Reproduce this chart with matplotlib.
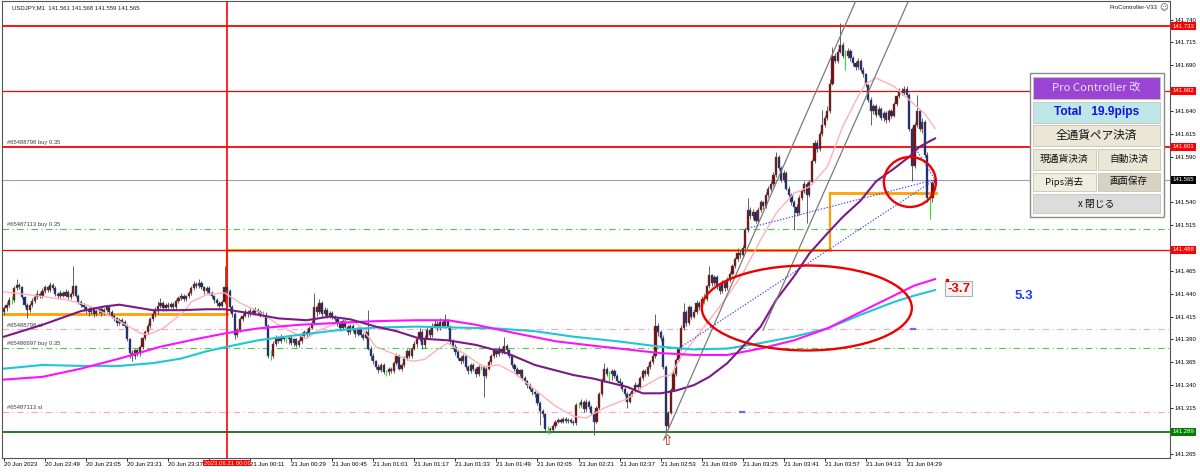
import matplotlib
matplotlib.use('Agg')
import matplotlib.pyplot as plt
import matplotlib.transforms as mtransforms
from matplotlib.patches import Ellipse, Rectangle
import numpy as np

plt.rcParams['font.family'] = ['Liberation Sans', 'Noto Sans CJK JP', 'DejaVu Sans']

# USDJPY M1 candles, prices in thousandths above 141.000 (one row = 16 bars)
opens = [
    420, 424, 428, 433, 433, 446, 450, 447, 436, 428, 422, 428, 432, 436, 440, 437,
    443, 447, 444, 450, 446, 440, 437, 441, 438, 442, 436, 440, 448, 438, 431, 428,
    425, 422, 420, 424, 418, 421, 423, 419, 422, 425, 420, 416, 413, 408, 411, 409,
    405, 390, 375, 372, 378, 375, 382, 391, 398, 405, 412, 418, 421, 427, 430, 424,
    428, 426, 429, 425, 432, 435, 438, 434, 437, 441, 446, 451, 448, 452, 447, 443,
    446, 441, 437, 433, 430, 427, 431, 447, 443, 425, 418, 395, 400, 412, 416, 420,
    418, 421, 419, 422, 420, 417, 417, 405, 372, 372, 385, 392, 388, 393, 390, 390,
    392, 386, 390, 384, 388, 394, 398, 396, 403, 408, 425, 420, 430, 418, 422, 416,
    419, 414, 412, 408, 402, 410, 404, 398, 405, 400, 396, 402, 395, 392, 398, 380,
    372, 366, 360, 356, 362, 354, 354, 358, 355, 364, 372, 358, 362, 370, 377, 372,
    380, 385, 390, 398, 384, 392, 400, 395, 404, 407, 402, 409, 405, 410, 404, 388,
    382, 376, 370, 366, 372, 360, 355, 362, 358, 352, 360, 360, 350, 358, 365, 372,
    378, 374, 380, 376, 383, 378, 372, 362, 358, 352, 356, 348, 344, 340, 336, 332,
    330, 320, 312, 308, 292, 292, 291, 295, 300, 302, 300, 303, 301, 302, 300, 298,
    318, 318, 322, 314, 322, 316, 310, 300, 315, 330, 345, 358, 352, 352, 355, 350,
    345, 342, 336, 330, 322, 330, 334, 340, 338, 348, 355, 352, 360, 365, 372, 405,
    398, 392, 360, 295, 310, 335, 352, 368, 380, 402, 420, 408, 425, 415, 420, 430,
    425, 434, 434, 448, 460, 452, 458, 448, 443, 452, 446, 455, 462, 470, 478, 485,
    482, 490, 510, 532, 525, 530, 520, 532, 540, 536, 548, 555, 560, 570, 590, 578,
    565, 572, 555, 548, 540, 535, 528, 545, 552, 560, 548, 562, 585, 605, 598, 615,
    625, 632, 640, 670, 700, 695, 705, 712, 700, 700, 706, 698, 692, 688, 695, 685,
    680, 668, 652, 640, 645, 636, 642, 632, 638, 630, 640, 635, 648, 656, 662, 660,
    664, 658, 620, 580, 625, 640, 620, 628, 592, 545, 545, 561,
]
highs = [
    427, 431, 436, 437, 449, 456, 452, 449, 438, 430, 430, 435, 439, 444, 442, 446,
    450, 449, 453, 452, 448, 442, 444, 443, 445, 444, 442, 470, 450, 440, 433, 430,
    427, 425, 427, 426, 424, 426, 425, 424, 428, 427, 422, 418, 415, 413, 413, 411,
    407, 392, 378, 380, 380, 384, 393, 400, 408, 414, 422, 426, 432, 435, 432, 430,
    431, 431, 431, 434, 437, 441, 440, 439, 443, 449, 454, 453, 456, 454, 449, 448,
    448, 443, 439, 435, 432, 433, 470, 450, 445, 428, 420, 403, 414, 419, 423, 422,
    424, 423, 425, 424, 422, 421, 420, 407, 378, 388, 395, 394, 396, 394, 393, 394,
    394, 392, 392, 390, 396, 400, 400, 405, 411, 441, 428, 434, 432, 425, 424, 421,
    421, 417, 414, 410, 412, 412, 406, 407, 407, 402, 404, 404, 397, 400, 422, 383,
    375, 368, 363, 364, 364, 357, 360, 360, 366, 375, 374, 364, 372, 380, 379, 382,
    388, 393, 402, 400, 395, 404, 403, 408, 411, 410, 413, 411, 418, 412, 406, 390,
    385, 378, 372, 374, 374, 362, 364, 364, 360, 362, 363, 362, 360, 367, 374, 380,
    381, 383, 382, 393, 385, 380, 374, 364, 360, 358, 358, 350, 346, 342, 338, 334,
    332, 323, 314, 310, 295, 294, 297, 302, 304, 304, 305, 305, 304, 304, 302, 320,
    322, 325, 324, 325, 324, 318, 312, 317, 332, 348, 364, 360, 355, 358, 358, 352,
    348, 345, 338, 332, 332, 336, 343, 342, 350, 358, 358, 362, 368, 376, 418, 408,
    400, 395, 362, 312, 337, 355, 370, 382, 406, 430, 422, 428, 427, 423, 433, 432,
    437, 441, 450, 470, 462, 461, 460, 450, 455, 454, 458, 465, 473, 480, 490, 488,
    493, 512, 545, 535, 533, 532, 535, 543, 542, 551, 558, 563, 573, 595, 592, 580,
    575, 574, 558, 550, 543, 538, 548, 555, 563, 562, 565, 588, 608, 608, 618, 641,
    636, 645, 675, 710, 703, 708, 736, 715, 707, 709, 708, 700, 695, 698, 697, 688,
    682, 670, 655, 648, 648, 645, 644, 640, 640, 642, 642, 650, 658, 665, 665, 667,
    667, 660, 622, 628, 657, 642, 632, 630, 595, 548, 563, 568,
]
lows = [
    417, 421, 426, 429, 431, 444, 445, 434, 425, 413, 420, 426, 430, 434, 435, 435,
    441, 442, 442, 444, 438, 434, 435, 436, 436, 434, 434, 438, 436, 429, 425, 421,
    419, 416, 418, 415, 416, 419, 416, 417, 420, 417, 413, 410, 405, 406, 406, 402,
    388, 370, 366, 369, 372, 372, 380, 389, 396, 402, 410, 415, 418, 424, 421, 421,
    423, 424, 422, 423, 430, 433, 432, 432, 435, 439, 444, 446, 446, 445, 440, 441,
    439, 435, 430, 427, 424, 425, 429, 441, 420, 414, 390, 393, 398, 410, 414, 415,
    416, 417, 417, 418, 415, 414, 403, 370, 367, 370, 383, 386, 386, 388, 386, 385,
    384, 383, 382, 382, 386, 392, 393, 394, 401, 406, 416, 418, 415, 416, 413, 413,
    412, 410, 405, 399, 400, 402, 395, 396, 398, 393, 394, 393, 389, 390, 378, 368,
    363, 358, 353, 354, 352, 350, 351, 353, 353, 362, 356, 355, 360, 368, 370, 370,
    378, 382, 388, 380, 381, 390, 392, 393, 402, 399, 400, 403, 403, 401, 385, 379,
    373, 368, 363, 364, 358, 352, 353, 355, 349, 350, 356, 327, 348, 356, 363, 370,
    371, 372, 374, 374, 376, 370, 360, 355, 350, 350, 346, 341, 337, 333, 329, 327,
    318, 296, 305, 290, 287, 288, 289, 293, 298, 298, 298, 299, 299, 298, 296, 296,
    315, 316, 311, 312, 314, 307, 285, 298, 313, 328, 343, 350, 345, 346, 348, 343,
    340, 334, 328, 315, 320, 328, 332, 335, 336, 346, 350, 350, 358, 363, 370, 394,
    388, 358, 289, 292, 308, 333, 350, 366, 378, 400, 405, 406, 412, 413, 418, 422,
    423, 429, 432, 446, 449, 450, 445, 440, 441, 443, 444, 453, 460, 468, 476, 479,
    480, 488, 508, 522, 522, 517, 518, 530, 533, 534, 546, 552, 558, 568, 575, 562,
    562, 553, 545, 537, 510, 525, 526, 543, 550, 517, 546, 560, 583, 595, 596, 613,
    622, 630, 638, 668, 692, 692, 703, 698, 685, 698, 695, 689, 685, 686, 683, 677,
    666, 650, 625, 637, 633, 634, 630, 629, 627, 628, 632, 633, 646, 654, 657, 658,
    655, 618, 563, 578, 622, 618, 616, 590, 540, 522, 540, 559,
]
closes = [
    424, 428, 433, 433, 446, 450, 447, 436, 428, 422, 428, 432, 436, 440, 437, 443,
    447, 444, 450, 446, 440, 437, 441, 438, 442, 436, 440, 448, 438, 431, 428, 425,
    422, 420, 424, 418, 421, 423, 419, 422, 425, 420, 416, 413, 408, 411, 409, 405,
    390, 375, 372, 378, 375, 382, 391, 398, 405, 412, 418, 421, 427, 430, 424, 428,
    426, 429, 425, 432, 435, 438, 434, 437, 441, 446, 451, 448, 452, 447, 443, 446,
    441, 437, 433, 430, 427, 431, 447, 443, 425, 418, 395, 400, 412, 416, 420, 418,
    421, 419, 422, 420, 417, 417, 405, 372, 372, 385, 392, 388, 393, 390, 390, 392,
    386, 390, 384, 388, 394, 398, 396, 403, 408, 425, 420, 430, 418, 422, 416, 419,
    414, 412, 408, 402, 410, 404, 398, 405, 400, 396, 402, 395, 392, 398, 380, 372,
    366, 360, 356, 362, 354, 354, 358, 355, 364, 372, 358, 362, 370, 377, 372, 380,
    385, 390, 398, 384, 392, 400, 395, 404, 407, 402, 409, 405, 410, 404, 388, 382,
    376, 370, 366, 372, 360, 355, 362, 358, 352, 360, 360, 350, 358, 365, 372, 378,
    374, 380, 376, 383, 378, 372, 362, 358, 352, 356, 348, 344, 340, 336, 332, 330,
    320, 312, 308, 292, 292, 291, 295, 300, 302, 300, 303, 301, 302, 300, 298, 318,
    318, 322, 314, 322, 316, 310, 300, 315, 330, 345, 358, 352, 352, 355, 350, 345,
    342, 336, 330, 322, 330, 334, 340, 338, 348, 355, 352, 360, 365, 372, 405, 398,
    392, 360, 295, 310, 335, 352, 368, 380, 402, 420, 408, 425, 415, 420, 430, 425,
    434, 434, 448, 460, 452, 458, 448, 443, 452, 446, 455, 462, 470, 478, 485, 482,
    490, 510, 532, 525, 530, 520, 532, 540, 536, 548, 555, 560, 570, 590, 578, 565,
    572, 555, 548, 540, 535, 528, 545, 552, 560, 548, 562, 585, 605, 598, 615, 625,
    632, 640, 670, 700, 695, 705, 712, 700, 700, 706, 698, 692, 688, 695, 685, 680,
    668, 652, 640, 645, 636, 642, 632, 638, 630, 640, 635, 648, 656, 662, 660, 664,
    658, 620, 580, 625, 640, 620, 628, 592, 545, 545, 561, 565,
]

# moving averages (bar index, thousandths above 141)
pink_at = [0, 15, 25, 32, 39, 45, 53, 56, 62, 70, 73, 79, 86, 92, 99, 107, 113, 118, 122, 130,
           136, 139, 145, 153, 159, 164, 169, 173, 179, 187, 193, 199, 207, 215, 222, 227, 234,
           243, 249, 256, 260, 264, 269, 275, 282, 288, 295, 301, 308, 314, 321, 327, 333, 336,
           340, 347, 353, 359, 363]
pink_val = [442, 437, 433, 428, 419, 410, 397, 395, 402, 420, 431, 439, 441, 430, 421, 406, 397,
            391, 399, 408, 410, 404, 382, 373, 366, 368, 379, 386, 375, 360, 362, 353, 335, 317,
            306, 304, 315, 325, 338, 349, 351, 371, 389, 411, 437, 462, 499, 528, 550, 557, 579,
            623, 656, 670, 676, 667, 652, 637, 621]
purple_at = [0, 15, 30, 39, 45, 58, 69, 79, 86, 95, 107, 118, 127, 135, 145, 153, 162, 173, 184,
             196, 207, 222, 230, 243, 249, 256, 262, 269, 275, 282, 288, 295, 301, 308, 314, 321,
             327, 334, 340, 347, 353, 357, 363]
purple_val = [393, 406, 421, 426, 428, 422, 422, 423, 423, 419, 413, 411, 415, 412, 404, 399,
              391, 389, 384, 375, 362, 351, 347, 338, 331, 331, 334, 340, 349, 364, 382, 404, 433,
              459, 484, 506, 524, 542, 563, 577, 590, 601, 610]
magenta_at = [0, 15, 30, 45, 61, 76, 87, 99, 115, 130, 145, 161, 173, 184, 199, 215, 230, 243,
              256, 269, 282, 295, 308, 321, 334, 347, 355, 363]
magenta_val = [346, 349, 358, 369, 382, 391, 397, 402, 406, 408, 410, 411, 411, 406, 397, 388,
               383, 379, 375, 373, 373, 380, 389, 402, 420, 438, 449, 456]
cyan_at = [0, 15, 30, 45, 58, 69, 79, 87, 99, 115, 130, 145, 161, 176, 192, 207, 222, 239, 256,
           269, 282, 295, 308, 321, 334, 347, 355, 363]
cyan_val = [358, 362, 361, 361, 364, 369, 377, 382, 389, 395, 400, 403, 404, 403, 402, 399, 393,
            388, 382, 379, 380, 386, 393, 402, 417, 431, 438, 444]

# one label every 16 bars; the 23:53 one sits under the date box
time_labels = ['20 Jun 2023', '20 Jun 22:49', '20 Jun 23:05', '20 Jun 23:21', '20 Jun 23:37',
               '', '21 Jun 00:11', '21 Jun 00:29', '21 Jun 00:45', '21 Jun 01:01',
               '21 Jun 01:17', '21 Jun 01:33', '21 Jun 01:49', '21 Jun 02:05', '21 Jun 02:21',
               '21 Jun 02:37', '21 Jun 02:53', '21 Jun 03:09', '21 Jun 03:25', '21 Jun 03:41',
               '21 Jun 03:57', '21 Jun 04:13', '21 Jun 04:29']
time_ticks = [16 * k for k in range(len(time_labels))]
price_ticks = [141.265, 141.315, 141.340, 141.365, 141.390, 141.415, 141.440, 141.465, 141.515,
               141.540, 141.590, 141.615, 141.640, 141.690, 141.715, 141.740]

# order / level lines
red_levels = [141.733, 141.662, 141.601, 141.488]
current_price = 141.565
buy_levels = [141.511, 141.381]
sl_levels = [141.401, 141.311]
sl_marks_at = [354.4, 287.7]
support_level = 141.289
order_texts = [(141.601, '#65488798 buy 0.35'), (141.511, '#65487113 buy 0.35'),
               (141.401, '#65488798 sl'), (141.381, '#65486697 buy 0.35'), (141.311, '#65487113 sl')]
open_lines = [(0, 87, 141.418), (87, 322, 141.488), (322, 363.5, 141.550)]
day_start = 87
trade_open_at = [263.5, 289.0, 355.0]
trade_open_px = [141.381, 141.511, 141.601]
trade_close_at = 363
trade_close_px = 141.565
channel_a = ([257.2, 332.0], [141.280, 141.760])
channel_b = ([295.9, 352.4], [141.400, 141.759])
low_bar = 258
big_ring = (313, 141.4244, 81.9, 0.093)
small_ring = (353.2, 141.5623, 20.3, 0.0547)

fig = plt.figure(figsize=(12, 4.72), dpi=100)
ax = fig.add_axes([2 / 1200, 14 / 472, 1168 / 1200, 457 / 472])
ax.set_xlim(-0.78, 454.6)
ax.set_ylim(141.2602, 141.7604)

o = 141 + np.array(opens) / 1000
h = 141 + np.array(highs) / 1000
l = 141 + np.array(lows) / 1000
c = 141 + np.array(closes) / 1000
idx = np.arange(len(c))
up = c > o
dn = c < o
flat = c == o

# level lines
for k, (x0, x1, y) in enumerate(open_lines):
    ax.plot([x0, x1], [y, y], color='#ffa000', lw=2.0, zorder=1)
    if k > 0:
        ax.plot([x0, x0], [open_lines[k - 1][2], y], color='#ffa000', lw=1.6, zorder=1)
for lv in red_levels:
    lw = 1.3 if lv in (141.733, 141.601) else 0.9
    ax.axhline(lv, color='#ff0000', lw=lw, zorder=2)
ax.axhline(current_price, color='#8fa3c2', lw=0.8, zorder=1)
for lv in buy_levels:
    ax.axhline(lv, color='#4cc84c', lw=0.8, ls=(0, (6, 3, 1, 3)), zorder=1)
for lv in sl_levels:
    ax.axhline(lv, color='#ffa0c4', lw=0.8, ls=(0, (6, 3, 1, 3)), zorder=1)
for xm, lv in zip(sl_marks_at, sl_levels):
    ax.plot([xm - 0.8, xm + 0.8], [lv, lv], color='#6a6aff', lw=1.6, zorder=2)
ax.axhline(support_level, color='#006400', lw=1.2, zorder=1)
ax.axvline(day_start, color='#ff0000', lw=1.2, zorder=2)

ytr = mtransforms.blended_transform_factory(ax.transAxes, ax.transData)
for lv, txt in order_texts:
    ax.text(0.004, lv + 0.002, txt, transform=ytr, fontsize=4.2, color='#404040', va='bottom', ha='left',
            zorder=6)

# candles
ax.vlines(idx[~flat], l[~flat], h[~flat], color='#555555', lw=0.65, zorder=3)
ax.bar(idx[up], (c - o)[up], bottom=o[up], width=0.85, color='#7a0c0c', ec='#555555', lw=0.3, zorder=4)
ax.bar(idx[dn], (c - o)[dn], bottom=o[dn], width=0.85, color='#142a78', ec='#555555', lw=0.3, zorder=4)
ax.vlines(idx[flat], l[flat], h[flat], color='#2ee02e', lw=0.8, zorder=4)

# moving averages
ax.plot(pink_at, 141 + np.array(pink_val) / 1000, color='#ffb0b8', lw=1.0, zorder=5)
ax.plot(cyan_at, 141 + np.array(cyan_val) / 1000, color='#1ec8d2', lw=1.5, zorder=5)
ax.plot(magenta_at, 141 + np.array(magenta_val) / 1000, color='#ff10ff', lw=1.5, zorder=5)
ax.plot(purple_at, 141 + np.array(purple_val) / 1000, color='#7a1a86', lw=1.5, zorder=5)

# channel and trade lines
ax.plot(*channel_a, color='#7a7a7a', lw=0.9, zorder=6)
ax.plot(*channel_b, color='#7a7a7a', lw=0.9, zorder=6)
for xa, ya in zip(trade_open_at, trade_open_px):
    ax.plot([xa, trade_close_at], [ya, trade_close_px], color='#3a3aff', lw=0.8, ls=(0, (1.2, 1.5)), zorder=6)

for (cx, cy, w, hh) in (big_ring, small_ring):
    ax.add_patch(Ellipse((cx, cy), w, hh, fill=False, ec='#ee0000', lw=1.7, zorder=7))

ax.annotate('\u21e7', xy=(low_bar + 0.5, l[low_bar]), xytext=(0, -2), textcoords='offset points',
            ha='center', va='top', fontsize=10, color='#b01818', family='DejaVu Sans')

# labels -3.7 and 5.3
ax.text(367.8, 141.4457, '-3.7', fontsize=9.5, fontweight='bold', color='#ee0000', va='center', ha='left',
        bbox=dict(boxstyle='square,pad=0.15', fc='#f4f4f4', ec='#b0b0b0', lw=0.8), zorder=8)
ax.plot([367.6], [141.4555], 's', ms=1.5, color='#ee0000', zorder=9)
ax.text(394, 141.4375, '5.3', fontsize=9.5, fontweight='bold', color='#1a3cff', va='center', ha='left', zorder=8)

# axes styling
for s in ax.spines.values():
    s.set_color('#555555')
    s.set_linewidth(0.8)
ax.yaxis.tick_right()
ax.set_yticks(price_ticks)
ax.set_yticklabels(['%.3f' % p for p in price_ticks])
ax.tick_params(axis='y', length=2, width=0.6, pad=1.5, labelsize=4.3)
ax.set_xticks(time_ticks)
ax.set_xticklabels(time_labels, ha='left')
ax.tick_params(axis='x', length=2, width=0.6, pad=1, labelsize=4.3)

box_labels = [(141.733, '#ff0000'), (141.662, '#ff0000'), (141.601, '#ff0000'),
              (141.565, '#000000'), (141.488, '#ff0000'), (141.289, '#008000')]
for p, col in box_labels:
    ax.text(1.0025, p, '%.3f' % p, transform=ytr, fontsize=4.3, color='white', va='center', ha='left',
            bbox=dict(boxstyle='square,pad=0.25', fc=col, ec='none'), clip_on=False, zorder=9)

xtr = mtransforms.blended_transform_factory(ax.transData, ax.transAxes)
ax.text(day_start, -0.006, '2023.06.21 00:00', transform=xtr, fontsize=4.3, color='white', va='top',
        ha='center', bbox=dict(boxstyle='square,pad=0.12', fc='#ff0000', ec='none'), clip_on=False, zorder=9)

# header texts
fig.text(12 / 1200, 1 - 7.5 / 472, 'USDJPY,M1  141.561 141.568 141.559 141.565', fontsize=4.3,
         va='center', ha='left', color='#222222')
fig.text(1157 / 1200, 1 - 7.5 / 472, 'ProController-V33', fontsize=4.3, va='center', ha='right', color='#222222')
fig.text(1159 / 1200, 1 - 7.5 / 472, '\u263a', fontsize=6, va='center', ha='left', color='#555555',
         family='DejaVu Sans')

# Pro Controller panel (pixel overlay)
ov = fig.add_axes([0, 0, 1, 1])
ov.set_xlim(0, 1200)
ov.set_ylim(472, 0)
ov.axis('off')
ov.add_patch(Rectangle((1030, 73), 134, 144, fc='white', ec='#8a8a8a', lw=1.0))
buttons = [
    ('Pro Controller 改', 1033, 77, 1160, 99, '#9a44d6', '#e8e0f8', 8.2, 'normal', 'Noto Sans CJK JP'),
    ('Total   19.9pips', 1033, 101.5, 1160, 122.5, '#bfe6e6', '#1010e8', 8.6, 'bold', 'Liberation Sans'),
    ('全通貨ペア決済', 1033, 124.5, 1160, 146, '#ebe7d6', '#111111', 8.4, 'normal', 'Noto Sans CJK JP'),
    ('現通貨決済', 1033, 148.5, 1096, 170, '#ebe7d6', '#111111', 7.0, 'normal', 'Noto Sans CJK JP'),
    ('自動決済', 1097.5, 148.5, 1160, 170, '#ebe7d6', '#111111', 7.0, 'normal', 'Noto Sans CJK JP'),
    ('Pips消去', 1033, 172.5, 1096, 191, '#efece0', '#111111', 6.8, 'normal', 'Noto Sans CJK JP'),
    ('画面保存', 1097.5, 172.5, 1160, 191, '#d6d2c4', '#111111', 6.8, 'normal', 'Noto Sans CJK JP'),
    ('x 閉じる', 1033, 194, 1160, 213, '#dcdcdc', '#111111', 7.0, 'normal', 'Noto Sans CJK JP'),
]
for txt, x0, y0, x1, y1, fc, tc, fs, fw, fam in buttons:
    ov.add_patch(Rectangle((x0, y0), x1 - x0, y1 - y0, fc=fc, ec='#c8c4b4', lw=0.6))
    ov.text((x0 + x1) / 2, (y0 + y1) / 2, txt, ha='center', va='center', fontsize=fs, color=tc,
            fontweight=fw, family=[fam, 'Noto Sans CJK JP', 'DejaVu Sans'])

fig.savefig('out.png', dpi=100, facecolor='white')
